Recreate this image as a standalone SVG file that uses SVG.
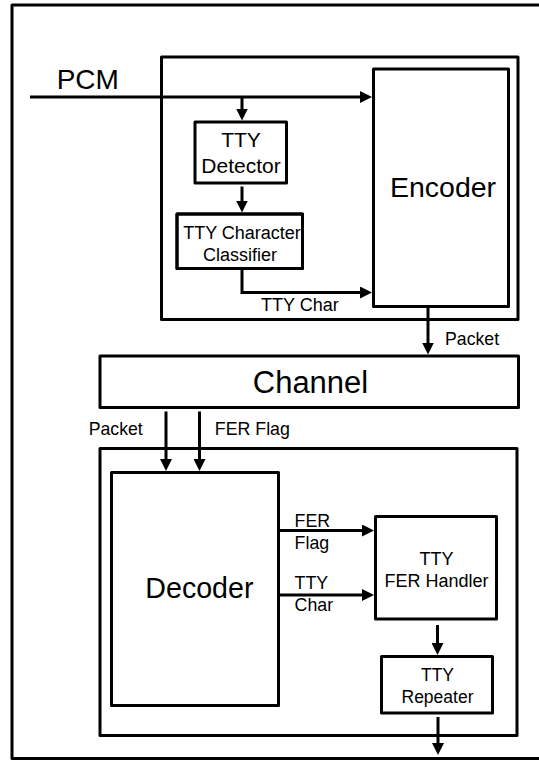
<svg xmlns="http://www.w3.org/2000/svg" width="539" height="761" viewBox="0 0 539 761">
<defs>
<style>
.box{fill:#fff;stroke:#000;stroke-width:3;stroke-linejoin:round}
.frame{fill:none;stroke:#000;stroke-width:3;stroke-linejoin:round}
.ln{fill:none;stroke:#000;stroke-width:3}
.arr{fill:none;stroke:#000;stroke-width:3;marker-end:url(#ah)}
text{font-family:"Liberation Sans",Arial,sans-serif;fill:#000}
.c{text-anchor:middle}
</style>
<marker id="ah" markerUnits="userSpaceOnUse" markerWidth="12" markerHeight="12" refX="2" refY="6" orient="auto">
<path d="M0,0 L12,6 L0,12 z" fill="#000"/>
</marker>
</defs>
<rect width="539" height="761" fill="#fff"/>
<path class="frame" d="M545,5 H12 V758.5 H545"/>

<g id="encoder-group">
<rect class="box" x="161.5" y="57" width="356.5" height="262.5"/>
</g>
<g id="encoder">
<rect class="box" x="373.5" y="69" width="135" height="237.5"/>
<text class="c" x="443" y="196.7" font-size="28.5">Encoder</text>
</g>
<g id="tty-detector">
<rect class="box" x="195" y="122" width="91.5" height="61"/>
<text class="c" x="241" y="146.7" font-size="21">TTY</text>
<text class="c" x="241" y="172.7" font-size="21">Detector</text>
</g>
<g id="tty-classifier">
<rect class="box" x="177" y="214" width="125.5" height="54.5"/>
<text class="c" x="242" y="239.3" font-size="18">TTY Character</text>
<text class="c" x="240" y="260.7" font-size="18">Classifier</text>
<rect fill="none" stroke="#000" stroke-width="3" stroke-linejoin="round" x="177" y="214" width="125.5" height="54.5"/>
</g>
<g id="channel">
<rect class="box" x="100" y="356" width="418.5" height="51.5"/>
<text class="c" x="310.5" y="392.7" font-size="31">Channel</text>
</g>
<g id="decoder-group">
<rect class="box" x="100" y="448.5" width="417" height="287"/>
</g>
<g id="decoder">
<rect class="box" x="111.5" y="472.5" width="167" height="233"/>
<text class="c" x="199.4" y="598.3" font-size="28.6">Decoder</text>
</g>
<g id="tty-fer-handler">
<rect class="box" x="375.5" y="516.5" width="121" height="102.5"/>
<text class="c" x="436.6" y="565" font-size="18">TTY</text>
<text class="c" x="436.6" y="586.7" font-size="18">FER Handler</text>
</g>
<g id="tty-repeater">
<rect class="box" x="381.5" y="656.5" width="111" height="56.5"/>
<text class="c" x="437.5" y="681" font-size="17.5">TTY</text>
<text class="c" x="437.5" y="703.3" font-size="17.5">Repeater</text>
</g>

<g id="connectors">
<path class="arr" d="M30,97 H362"/>
<path class="arr" d="M242,97 V110.5"/>
<path class="arr" d="M242,186.5 V202.5"/>
<path class="arr" d="M242,270 V292.5 H362"/>
<path class="arr" d="M428,308 V344.5"/>
<path class="arr" d="M166,411.5 V461"/>
<path class="arr" d="M199.5,411.5 V461"/>
<path class="arr" d="M280,530.5 H364"/>
<path class="arr" d="M280,595 H364"/>
<path class="arr" d="M437.5,625 V645"/>
<path class="arr" d="M438,717 V745"/>
<text x="56.7" y="88.5" font-size="28">PCM</text>
<text x="261" y="310.7" font-size="18">TTY Char</text>
<text x="445" y="345" font-size="17.7">Packet</text>
<text x="88.7" y="435" font-size="17.7">Packet</text>
<text x="214.8" y="435" font-size="17.8">FER Flag</text>
<text x="294.6" y="526.7" font-size="17.8">FER</text>
<text x="294.6" y="549.3" font-size="17.8">Flag</text>
<text x="294.6" y="589.3" font-size="17.8">TTY</text>
<text x="294.6" y="611" font-size="17.8">Char</text>
</g>
</svg>
